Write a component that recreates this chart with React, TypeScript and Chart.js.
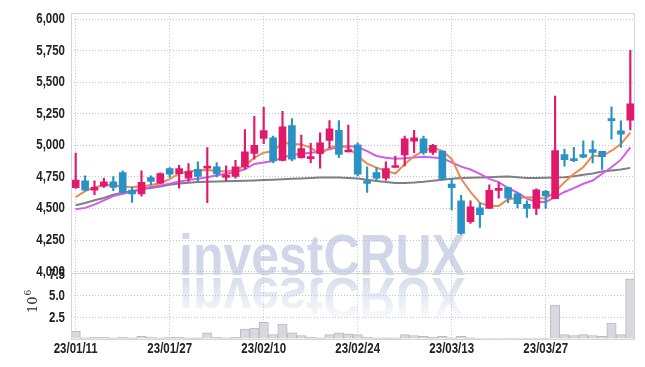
import React, { useEffect, useRef } from "react";
import { Chart, registerables } from "chart.js";

Chart.register(...registerables);

const dates: string[] = [
  "23/01/11","23/01/12","23/01/13","23/01/16","23/01/17","23/01/18","23/01/19","23/01/20","23/01/25","23/01/26",
  "23/01/27","23/01/30","23/01/31","23/02/01","23/02/02","23/02/03","23/02/06","23/02/07","23/02/08","23/02/09",
  "23/02/10","23/02/13","23/02/14","23/02/15","23/02/16","23/02/17","23/02/20","23/02/21","23/02/22","23/02/23",
  "23/02/24","23/02/27","23/02/28","23/03/02","23/03/03","23/03/06","23/03/07","23/03/08","23/03/09","23/03/10",
  "23/03/13","23/03/14","23/03/15","23/03/16","23/03/17","23/03/20","23/03/21","23/03/22","23/03/23","23/03/24",
  "23/03/27","23/03/28","23/03/29","23/03/30","23/03/31","23/04/03","23/04/04","23/04/05","23/04/06","23/04/07",
];

const openP: number[] = [
  4665,4720,4646,4678,4712,4785,4646,4615,4746,4701,
  4817,4777,4741,4811,4819,4830,4746,4754,4832,4937,
  5055,5060,4882,5157,4903,4895,4937,5039,5120,4948,
  5005,4720,4785,4741,4825,4924,5034,5052,4945,4955,
  4693,4560,4395,4505,4500,4644,4665,4617,4534,4500,
  4636,4578,4927,4893,4927,4966,4953,5207,5115,5199,
];
const closeP: number[] = [
  4725,4646,4667,4712,4667,4628,4615,4707,4714,4777,
  4772,4817,4793,4754,4837,4777,4764,4830,4950,5000,
  5118,4877,5147,4890,4974,4911,5021,5131,4929,4961,
  4772,4699,4741,4817,4832,5052,5060,4942,5000,4735,
  4666,4303,4513,4452,4644,4657,4583,4539,4500,4649,
  4599,4958,4887,4880,4906,4945,4911,5196,5089,5330,
];
const highP: number[] = [
  4940,4759,4720,4740,4754,4798,4672,4798,4759,4783,
  4824,4843,4856,4869,4982,4864,4838,4882,5126,5230,
  5301,5073,5270,5212,5081,5016,5100,5197,5197,5160,
  5021,4830,4824,4869,4916,5073,5120,5073,5008,4955,
  4737,4604,4560,4544,4688,4704,4670,4625,4560,4657,
  4644,5390,4971,4984,5037,5037,4953,5306,5194,5752,
];
const lowP: number[] = [
  4660,4640,4610,4667,4641,4615,4549,4597,4688,4698,
  4746,4662,4714,4720,4547,4751,4720,4740,4811,4890,
  5013,4864,4877,4877,4898,4864,4819,4982,4903,4948,
  4759,4628,4725,4725,4825,4838,4942,4929,4929,4725,
  4488,4295,4382,4350,4500,4583,4547,4505,4429,4452,
  4500,4578,4835,4872,4903,4861,4809,5050,4984,5123,
];
const ma5: number[] = [
  4591,4638,4667,4686,4687,4673,4668,4675,4686,4700,
  4733,4777,4793,4804,4806,4798,4793,4804,4838,4903,
  4942,4955,5021,5013,5008,4982,4929,4982,5000,4982,
  4916,4856,4824,4798,4777,4851,4916,4955,4982,4957,
  4893,4735,4631,4544,4521,4521,4573,4583,4589,4586,
  4578,4631,4709,4775,4827,4919,4914,4958,5010,5102,
];
const ma20: number[] = [
  4494,4505,4531,4565,4599,4617,4631,4657,4670,4683,
  4696,4714,4725,4736,4748,4763,4775,4790,4811,4853,
  4864,4877,4903,4924,4934,4942,4950,4969,4987,4995,
  4987,4955,4916,4903,4895,4898,4905,4910,4905,4898,
  4866,4832,4809,4775,4735,4709,4662,4625,4578,4552,
  4552,4591,4631,4662,4696,4722,4775,4827,4887,4984,
];
const ma60: number[] = [
  4526,4544,4565,4583,4610,4625,4636,4652,4662,4675,
  4688,4698,4705,4710,4713,4715,4717,4719,4720,4722,
  4725,4728,4732,4735,4738,4741,4745,4746,4745,4742,
  4737,4728,4718,4710,4703,4702,4706,4712,4720,4728,
  4735,4741,4744,4746,4748,4751,4754,4748,4741,4742,
  4743,4745,4748,4755,4767,4778,4793,4801,4809,4822,
];
const volume: number[] = [
  0.87,0.12,0.2,0.2,0.12,0.2,0.12,0.3,0.2,0.12,
  0.2,0.2,0.12,0.12,0.7,0.2,0.12,0.2,1.15,1.26,
  1.9,0.5,1.7,0.7,0.4,0.2,0.12,0.5,0.7,0.6,
  0.5,0.2,0.12,0.12,0.12,0.5,0.4,0.3,0.2,0.3,
  0.12,0.3,0.12,0.1,0.1,0.05,0.1,0.1,0.1,0.1,
  0.1,3.9,0.5,0.4,0.5,0.4,0.3,1.83,0.5,6.9,
];

const priceTicks: number[] = [4000, 4250, 4500, 4750, 5000, 5250, 5500, 5750, 6000];
const volumeTicks: number[] = [0, 2.5, 5, 7.5];

const UP = "#e2196b";
const DOWN = "#2b92c6";
const GRID = "rgba(170,175,200,0.75)";
const LABEL_FONT = 'bold 14px "Liberation Sans", Arial, sans-serif';
const SQUEEZE = 0.82;

function drawSqueezed(ctx: any, text: string, x: number, y: number, align: string) {
  ctx.save();
  ctx.translate(x, y);
  ctx.scale(SQUEEZE, 1);
  ctx.textAlign = align;
  ctx.fillText(text, 0, 0);
  ctx.restore();
}

const decor = {
  id: "decor",
  beforeDatasetsDraw(chart: any) {
    const ctx = chart.ctx;
    const ca = chart.chartArea;
    ctx.save();
    ctx.beginPath();
    ctx.rect(ca.left, ca.top, ca.right - ca.left, ca.bottom - ca.top);
    ctx.clip();
    const text = "investCRUX";
    ctx.font = 'bold 58px "Liberation Sans", Arial, sans-serif';
    ctx.textBaseline = "alphabetic";
    ctx.textAlign = "left";
    const bx = 179;
    const by = 275;
    const k = 286 / ctx.measureText(text).width;
    ctx.save();
    ctx.translate(bx, by);
    ctx.scale(k, 1);
    ctx.fillStyle = "rgba(178,188,218,0.6)";
    ctx.fillText(text, 0, 0);
    ctx.restore();
    // reflection
    ctx.save();
    ctx.translate(bx, by + 3);
    ctx.scale(k, -1);
    const g = ctx.createLinearGradient(0, 0, 0, -44);
    g.addColorStop(0, "rgba(178,188,218,0.5)");
    g.addColorStop(1, "rgba(178,188,218,0.04)");
    ctx.fillStyle = g;
    ctx.fillText(text, 0, 0);
    ctx.restore();
    ctx.restore();
  },
  afterDraw(chart: any) {
    const ctx = chart.ctx;
    const ca = chart.chartArea;
    const yv = chart.scales.yv;
    const yp = chart.scales.y;
    const xs = chart.scales.x;
    ctx.save();
    ctx.strokeStyle = "#d4d4da";
    ctx.lineWidth = 1;
    ctx.strokeRect(Math.round(ca.left) + 0.5, Math.round(ca.top) + 0.5, Math.round(ca.right - ca.left) - 1, Math.round(ca.bottom - ca.top));
    ctx.beginPath();
    ctx.moveTo(ca.left, Math.round(yv.top) + 1.5);
    ctx.lineTo(ca.right, Math.round(yv.top) + 1.5);
    ctx.stroke();

    // tick labels
    ctx.fillStyle = "#222";
    ctx.font = LABEL_FONT;
    ctx.textBaseline = "middle";
    yp.ticks.forEach((t: any) => {
      drawSqueezed(ctx, Number(t.value).toLocaleString("en-US"), 65, yp.getPixelForValue(t.value), "right");
    });
    yv.ticks.forEach((t: any) => {
      if (t.value === 0) return;
      drawSqueezed(ctx, Number(t.value).toFixed(1), 65, yv.getPixelForValue(t.value) + 1, "right");
    });
    xs.ticks.forEach((t: any) => {
      drawSqueezed(ctx, dates[t.value], xs.getPixelForValue(t.value), 349, "center");
    });

    // 10^6 label
    ctx.fillStyle = "#333";
    ctx.translate(37, 313);
    ctx.rotate(-Math.PI / 2);
    ctx.font = '13px "DejaVu Serif", serif';
    ctx.textBaseline = "alphabetic";
    ctx.textAlign = "left";
    ctx.fillText("10", 0, 0);
    const w = ctx.measureText("10").width;
    ctx.font = '9px "DejaVu Serif", serif';
    ctx.fillText("6", w + 1, -6);
    ctx.restore();
  },
};

export default function App() {
  const ref = useRef<HTMLCanvasElement>(null);
  useEffect(() => {
    if (!ref.current) return;
    const up = closeP.map((c, i) => c >= openP[i]);
    const colors = up.map((u) => (u ? UP : DOWN));
    const chart = new Chart(ref.current, {
      type: "bar",
      data: {
        labels: dates,
        datasets: [
          {
            type: "bar",
            data: openP.map((o, i) => [o, closeP[i]]) as any,
            backgroundColor: colors,
            borderWidth: 0,
            barThickness: 7,
            minBarLength: 2,
            grouped: false,
            yAxisID: "y",
            order: 0,
          },
          {
            type: "bar",
            data: lowP.map((l, i) => [l, highP[i]]) as any,
            backgroundColor: colors,
            borderWidth: 0,
            barThickness: 1.5,
            grouped: false,
            yAxisID: "y",
            order: 1,
          },
          {
            type: "line",
            data: ma5,
            borderColor: "#ee8a50",
            borderWidth: 2,
            pointRadius: 0,
            tension: 0,
            yAxisID: "y",
            order: 2,
          },
          {
            type: "line",
            data: ma20,
            borderColor: "#cf5fe8",
            borderWidth: 2,
            pointRadius: 0,
            tension: 0,
            yAxisID: "y",
            order: 3,
          },
          {
            type: "line",
            data: ma60,
            borderColor: "#7f7f7f",
            borderWidth: 2,
            pointRadius: 0,
            tension: 0,
            yAxisID: "y",
            order: 4,
          },
          {
            type: "bar",
            data: volume,
            backgroundColor: "#d8d8de",
            borderColor: "#b9bac2",
            borderWidth: 1,
            barPercentage: 1,
            categoryPercentage: 1,
            grouped: false,
            yAxisID: "yv",
            order: 5,
          },
        ] as any,
      },
      options: {
        animation: false,
        responsive: true,
        maintainAspectRatio: false,
        layout: { padding: { top: 10, right: 10, left: 0, bottom: 0 } },
        plugins: { legend: { display: false }, tooltip: { enabled: false } },
        scales: {
          x: {
            type: "category",
            offset: true,
            grid: { offset: false, color: GRID, drawTicks: false },
            border: { display: false, dash: [1, 2] },
            afterBuildTicks: (s: any) => {
              s.ticks = s.ticks.filter((t: any) => t.value % 10 === 0);
            },
            afterFit: (s: any) => {
              s.height = 28;
            },
            ticks: { autoSkip: false, maxRotation: 0, padding: 4, color: "transparent" },
          },
          yv: {
            type: "linear",
            position: "left",
            stack: "main",
            stackWeight: 68,
            weight: 0,
            min: 0,
            max: 7.73,
            grid: { color: (c: any) => (c.tick && c.tick.value === 0 ? "transparent" : GRID), drawTicks: false },
            border: { display: false, dash: [1, 2] },
            afterBuildTicks: (s: any) => {
              s.ticks = volumeTicks.map((v) => ({ value: v }));
            },
            afterFit: (s: any) => {
              s.width = 71;
            },
            ticks: { autoSkip: false, padding: 6, color: "transparent", font: { size: 8 } },
          },
          y: {
            type: "linear",
            position: "left",
            stack: "main",
            stackWeight: 261,
            weight: 1,
            min: 4000,
            max: 6047,
            grid: { color: GRID, drawTicks: false },
            border: { display: false, dash: [1, 2] },
            afterBuildTicks: (s: any) => {
              s.ticks = priceTicks.map((v) => ({ value: v }));
            },
            afterFit: (s: any) => {
              s.width = 71;
            },
            ticks: { autoSkip: false, padding: 6, color: "transparent" },
          },
        } as any,
      },
      plugins: [decor],
    });
    return () => chart.destroy();
  }, []);
  return (
    <div style={{ position: "absolute", left: 0, top: 0, width: 645, height: 367 }}>
      <canvas ref={ref} />
    </div>
  );
}
